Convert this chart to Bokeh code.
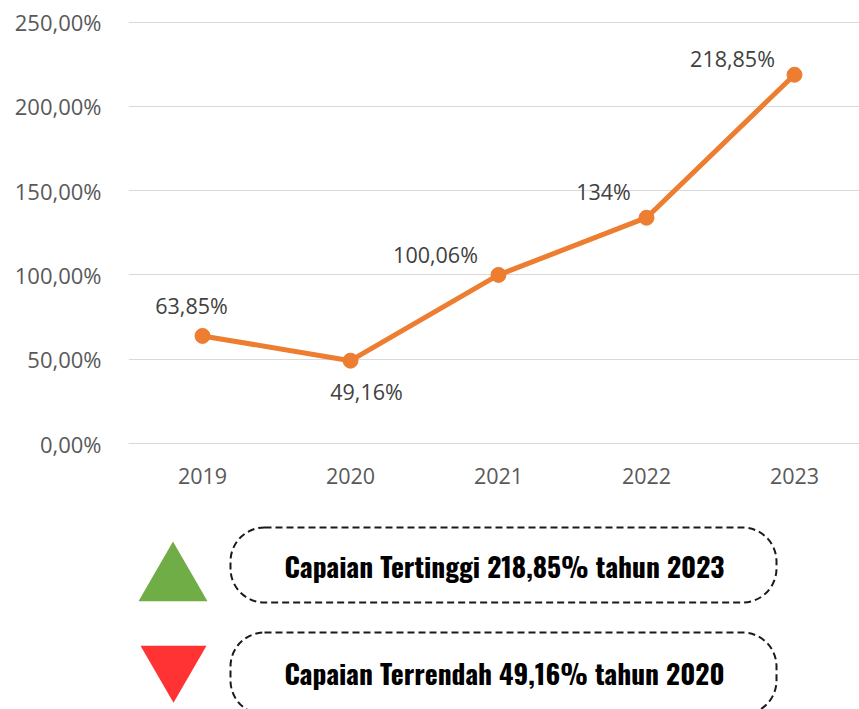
from bokeh.plotting import figure
from bokeh.layouts import column
from bokeh.models import Range1d, FixedTicker, ColumnDataSource
from bokeh.core.properties import value
from bokeh.embed import file_html
from bokeh.resources import INLINE

# ---- data ----
years = ["2019", "2020", "2021", "2022", "2023"]
achievement = [63.85, 49.16, 100.06, 134.0, 218.85]
point_labels = ["63,85%", "49,16%", "100,06%", "134%", "218,85%"]
y_ticks = [0, 50, 100, 150, 200, 250]

# label placement (screen px, relative to each point)
label_dx = [-11, 16, -63, -43, -62]
label_dy = [-30, 31, -20, -26, -16]

ORANGE = "#ED7D31"
GRID = "#D9D9D9"
AXIS_TXT = "#595959"
LABEL_TXT = "#404040"
FONT = "Open Sans"
BOLD_FONT = "Oswald"

xs = list(range(len(years)))

LEFT = 128
p = figure(width=859, height=500, output_backend="svg", toolbar_location=None,
           x_range=Range1d(-0.5, -0.5 + 731 / 148), y_range=Range1d(0, 254),
           min_border_left=LEFT, min_border_right=0, min_border_top=15, min_border_bottom=57)
p.outline_line_color = None
p.background_fill_color = "white"
p.border_fill_color = "white"

p.xgrid.grid_line_color = None
p.ygrid.grid_line_color = GRID
p.ygrid.grid_line_width = 1

p.yaxis.ticker = FixedTicker(ticks=y_ticks)
p.yaxis.major_label_overrides = {t: f"{t:.2f}%".replace(".", ",") for t in y_ticks}
p.yaxis.axis_line_color = None
p.yaxis.major_tick_line_color = None
p.yaxis.minor_tick_line_color = None
p.yaxis.major_label_standoff = 21
p.yaxis.major_label_text_font = FONT
p.yaxis.major_label_text_font_size = "22px"
p.yaxis.major_label_text_color = AXIS_TXT

p.xaxis.ticker = FixedTicker(ticks=xs)
p.xaxis.major_label_overrides = {i: y for i, y in zip(xs, years)}
p.xaxis.axis_line_color = GRID
p.xaxis.major_tick_line_color = None
p.xaxis.minor_tick_line_color = None
p.xaxis.major_label_standoff = 18
p.xaxis.major_label_text_font = FONT
p.xaxis.major_label_text_font_size = "21.5px"
p.xaxis.major_label_text_color = AXIS_TXT

src = ColumnDataSource(dict(x=xs, y=achievement, lab=point_labels, dx=label_dx, dy=label_dy))
p.line("x", "y", source=src, line_color=ORANGE, line_width=5, line_join="round")
p.scatter("x", "y", source=src, size=15, fill_color=ORANGE, line_color=ORANGE)
p.text("x", "y", text="lab", source=src, x_offset="dx", y_offset="dy",
       text_align="center", text_baseline="middle", text_font=value(FONT),
       text_font_size="21.5px", text_color=LABEL_TXT)

# ---- summary panel ----
imax = max(range(len(achievement)), key=lambda i: achievement[i])
imin = min(range(len(achievement)), key=lambda i: achievement[i])
fmt = lambda v: f"{v:.2f}".replace(".", ",")
txt_hi = f"Capaian Tertinggi {fmt(achievement[imax])}% tahun {years[imax]}"
txt_lo = f"Capaian Terrendah {fmt(achievement[imin])}% tahun {years[imin]}"

q = figure(width=859, height=209, output_backend="svg", toolbar_location=None,
           x_range=Range1d(LEFT, 859), y_range=Range1d(709, 500),
           min_border_left=LEFT, min_border_right=0, min_border_top=0, min_border_bottom=0,
           x_axis_location=None, y_axis_location=None)
q.outline_line_color = None
q.grid.grid_line_color = None
q.background_fill_color = "white"
q.border_fill_color = "white"

q.quad(left=[230, 230], right=[776, 776], top=[527, 632], bottom=[602, 714],
       fill_color=None, line_color="#1a1a1a", line_width=2, line_dash="7 4",
       border_radius=34)
q.scatter(x=[172.5], y=[580.8], marker="triangle", size=69,
          fill_color="#70AD47", line_color=None)
q.scatter(x=[173], y=[664.2], marker="inverted_triangle", size=66,
          fill_color="#FF3333", line_color=None)
q.text(x=[504, 504], y=[565, 672], text=[txt_hi, txt_lo], text_align="center",
       text_baseline="middle", text_font=value(BOLD_FONT), text_font_style="bold",
       text_font_size="27.5px", text_color="black")

layout = column(p, q, spacing=0)
open("out.html", "w").write(file_html(layout, INLINE))
